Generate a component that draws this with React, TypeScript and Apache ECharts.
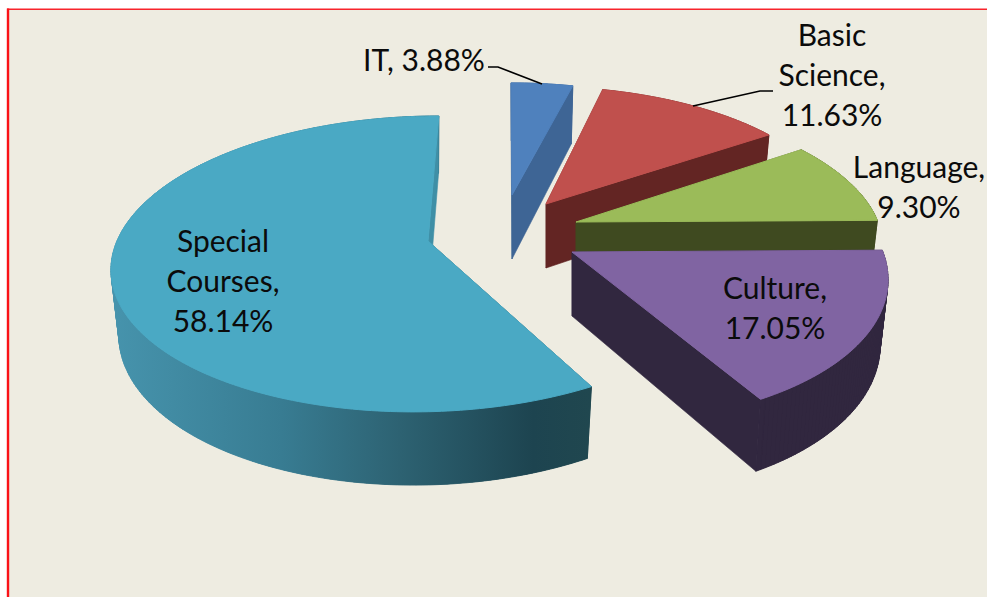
import React, { useEffect, useRef } from "react";
import * as echarts from "echarts";

const categories = ["IT", "Basic Science", "Language", "Culture", "Special Courses"];
const percentages = [3.88, 11.63, 9.3, 17.05, 58.14];
const labelLines = [
  ["IT, 3.88%"],
  ["Basic", "Science,", "11.63%"],
  ["Language,", "9.30%"],
  ["Culture,", "17.05%"],
  ["Special", "Courses,", "58.14%"],
];

// Layout of the exploded slices: projection of a unit circle onto the screen.
const geometry = [
  { ax: 512, ay: 195, rx: 284, k: 125, h: 1, p: 0.115 },
  { ax: 546, ay: 204, rx: 292, k: 131, h: 7.7, p: 0.115 },
  { ax: 576, ay: 222, rx: 302, k: 137, h: 18, p: 0.115 },
  { ax: 572, ay: 252, rx: 311, k: 152, h: 20, p: 0.115 },
  { ax: 428, ay: 241, rx: 311, k: 144.4, h: -12.5, p: 0.155 },
];
const topColors = ["#4F81BD", "#C0504D", "#9BBB59", "#8064A2", "#4AA9C4"];
const wallColors = ["#3E6595", "#632523", "#3F4A20", "#31273F", "#3F8FA6"];
const frontWallColors = ["#3E6595", "#632523", "#3F4A20", "#31273F", "#20474F"];
const labelPos = [
  { x: 424, y: 59 },
  { x: 832, y: 34 },
  { x: 919, y: 166 },
  { x: 775, y: 287 },
  { x: 223, y: 240 },
];
const leaders: number[][][] = [
  [[488, 67], [498, 67], [542, 84]],
  [[693, 106], [760, 91], [773, 91]],
  [],
  [],
  [],
];
const DEPTH = 64;
const BOTTOM_X = 0.975;
const BOTTOM_Y = 1.054;
const LINE_HEIGHT = 40;
const FONT = "Lato, Carlito, sans-serif";

function specialWallFill() {
  return new echarts.graphic.LinearGradient(
    115, 0, 590, 0,
    [
      { offset: 0, color: "#4693AC" },
      { offset: 0.35, color: "#387C92" },
      { offset: 0.6, color: "#2D6272" },
      { offset: 0.88, color: "#1D4450" },
      { offset: 1, color: "#20474F" },
    ],
    true
  );
}

function renderItem(params: any, api: any) {
  const i = params.dataIndex;
  const value = api.value(0);
  const before = percentages.slice(0, i).reduce((a, b) => a + b, 0);
  const start = (before / 100) * Math.PI * 2;
  const end = ((before + value) / 100) * Math.PI * 2;
  const g = geometry[i];

  const top = (t: number) => {
    const X = Math.sin(t);
    const Y = -Math.cos(t);
    const s = 1 / (1 - g.p * Y);
    return [g.ax + (g.rx * X + g.h * Y) * s, g.ay + g.k * Y * s];
  };
  const down = (pt: number[]) => [
    g.ax + (pt[0] - g.ax) * BOTTOM_X,
    g.ay + (pt[1] - g.ay) * BOTTOM_Y + DEPTH,
  ];

  const steps = Math.max(8, Math.ceil(((end - start) * 180) / Math.PI));
  const rim: number[][] = [];
  for (let n = 0; n <= steps; n++) rim.push(top(start + ((end - start) * n) / steps));
  const apex = [g.ax, g.ay];
  const apexDown = down(apex);
  const rimDown = rim.map(down);
  const first = rim[0];
  const last = rim[rim.length - 1];
  const rimFill = i === 4 ? specialWallFill() : wallColors[i];

  const children: any[] = [
    {
      type: "polygon",
      shape: { points: [apex, first, down(first), apexDown] },
      style: { fill: frontWallColors[i], stroke: frontWallColors[i], lineWidth: 0.6 },
    },
    {
      type: "polygon",
      shape: { points: [...rim, ...rimDown.slice().reverse()] },
      style: { fill: rimFill },
    },
  ];
  for (let n = 0; n < steps; n++) {
    children.push({
      type: "polygon",
      shape: { points: [rim[n], rim[n + 1], rimDown[n + 1], rimDown[n]] },
      style: { fill: rimFill, stroke: rimFill, lineWidth: 0.8 },
    });
  }
  children.push(
    {
      type: "polygon",
      shape: { points: [apex, last, down(last), apexDown] },
      style: { fill: wallColors[i], stroke: wallColors[i], lineWidth: 0.6 },
    },
    {
      type: "polygon",
      shape: { points: [apex, ...rim] },
      style: { fill: topColors[i], stroke: topColors[i], lineWidth: 1, lineJoin: "round" },
    }
  );
  if (leaders[i].length) {
    children.push({
      type: "polyline",
      shape: { points: leaders[i] },
      style: { stroke: "#000", lineWidth: 1.6, fill: "none" },
    });
  }
  labelLines[i].forEach((line, n) => {
    children.push({
      type: "text",
      style: {
        text: line,
        x: labelPos[i].x,
        y: labelPos[i].y + n * LINE_HEIGHT,
        fill: "#0b0b0b",
        font: `30px ${FONT}`,
        align: "center",
        verticalAlign: "middle",
      },
    });
  });
  return { type: "group", children };
}

export default function App() {
  const ref = useRef<HTMLDivElement>(null);
  useEffect(() => {
    const chart = echarts.init(ref.current!, undefined, { renderer: "svg" });
    chart.setOption({
      animation: false,
      backgroundColor: "#ffffff",
      graphic: [
        { type: "rect", z: -10, shape: { x: 9, y: 10, width: 990, height: 600 }, style: { fill: "#EEECE1" } },
        { type: "rect", z: -9, shape: { x: 7, y: 8.5, width: 990, height: 1.6 }, style: { fill: "#F8242C" } },
        { type: "rect", z: -9, shape: { x: 6.8, y: 8.5, width: 2.4, height: 600 }, style: { fill: "#FA1218" } },
      ],
      series: [
        {
          type: "custom",
          coordinateSystem: "none",
          renderItem,
          silent: true,
          data: categories.map((name, i) => ({ name, value: [percentages[i]] })),
        },
      ],
    });
    return () => chart.dispose();
  }, []);
  return <div ref={ref} style={{ position: "fixed", left: 0, top: 0, width: 987, height: 597 }} />;
}
